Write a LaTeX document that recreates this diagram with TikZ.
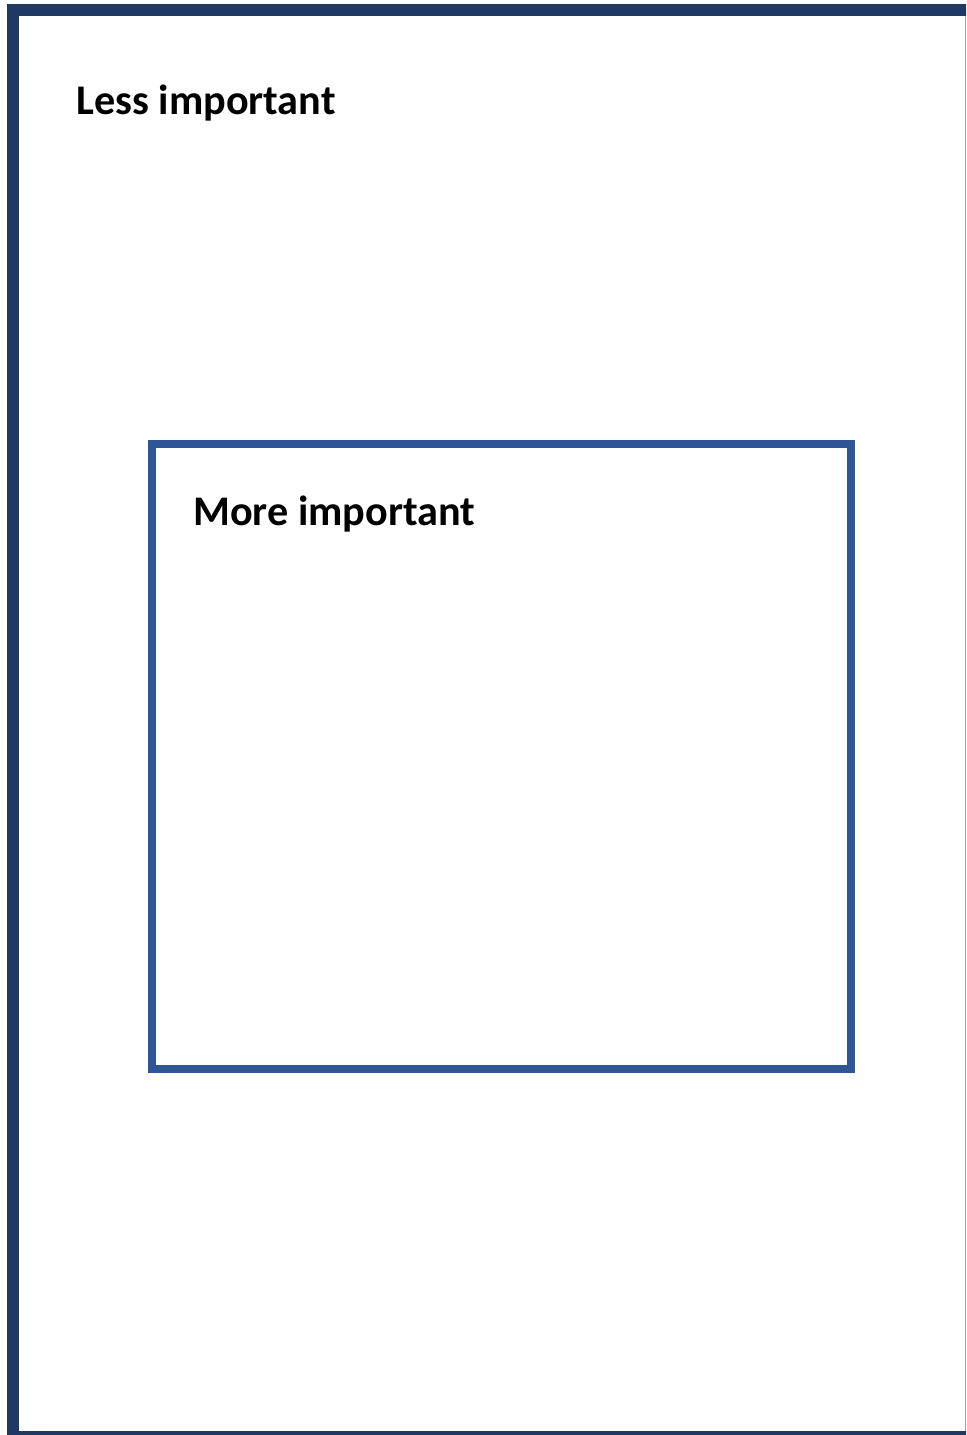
\documentclass[tikz,border=0pt]{standalone}
\usepackage{fontspec}
\setmainfont{Carlito}
\usepackage{tikz}
\usetikzlibrary{positioning}
\definecolor{framenavy}{HTML}{203864}
\definecolor{boxblue}{HTML}{2F5597}

\begin{document}
\begin{tikzpicture}[x=0.5pt, y=-0.5pt, every node/.style={font=\bfseries\fontsize{21.1}{25}\selectfont}]
  \useasboundingbox (0,0) rectangle (966,1435);
  \clip (0,0) rectangle (966,1435);
  % outer frame, cut off at right and bottom
  \node[draw=framenavy, line width=6pt, minimum width=482.5pt, minimum height=713.5pt, inner sep=0pt, outer sep=0pt, anchor=north west] (outer) at (13,10) {};
  \draw[framenavy!45, line width=0.6pt] (965.4,16) -- (965.4,1431);
  \node[anchor=base west, inner sep=0pt] (less) at (76,114) {Less important};

  % inner box
  \node[draw=boxblue, line width=4pt, minimum width=349.5pt, minimum height=312.5pt, inner sep=0pt] (inner) at (501.5,756.5) {};
  \node[anchor=base west, inner sep=0pt] (more) at (193,525) {More important};
\end{tikzpicture}
\end{document}
